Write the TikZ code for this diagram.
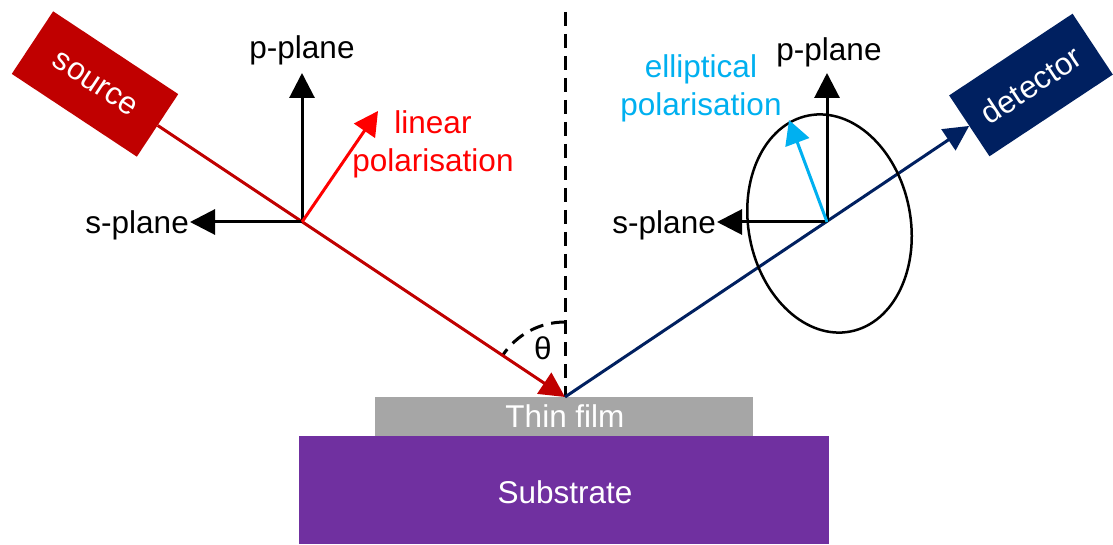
\documentclass[tikz,border=0pt]{standalone}
\usepackage{fontspec}
\setmainfont{Liberation Sans}
\usetikzlibrary{arrows.meta}
\definecolor{srcred}{HTML}{C00000}
\definecolor{detblue}{HTML}{002060}
\definecolor{filmgray}{HTML}{A6A6A6}
\definecolor{subpurple}{HTML}{7030A0}
\definecolor{polred}{HTML}{FF0000}
\definecolor{polcyan}{HTML}{00B0F0}
\tikzset{
  txt/.style={font=\fontsize{31.5}{38}\selectfont, inner sep=0pt},
  boxnode/.style={txt, text=white, minimum width=150pt, minimum height=75pt},
  axis/.style={line width=3pt, black, -{Triangle[length=25pt,width=25pt]}},
  polarrow/.style={line width=3pt, -{Triangle[length=24pt,width=25pt]}},
  beam/.style={line width=3pt},
  dashline/.style={line width=3pt, dash pattern=on 14pt off 8pt},
}
\begin{document}
\begin{tikzpicture}[x=1pt,y=1pt]
\useasboundingbox[fill=white] (0,0) rectangle (1113,544);
% layers
\node[fill=subpurple, minimum width=530pt, minimum height=108pt, inner sep=0pt, anchor=south west] (sub) at (299,0) {};
\node[fill=filmgray, minimum width=378pt, minimum height=39pt, inner sep=0pt, anchor=south west] (film) at (375,108) {};
\node[txt, text=white] (filmtxt) at (565,128) {Thin film};
\node[txt, text=white] (subtxt) at (565,52) {Substrate};
% incidence point and normal
\coordinate (I) at (565,147);
\coordinate (N) at (565,532);
\draw[dashline] (N) -- (I);
\draw[dashline] (I) ++(90:75) arc[start angle=90, end angle=146.5, radius=75];
\node[txt] (theta) at (543,196) {θ};
% source and detector
\node[boxnode, fill=srcred, rotate=-33.5] (src) at (95,460) {source};
\node[boxnode, fill=detblue, rotate=33.5, minimum width=148pt, minimum height=73pt] (det) at (1031,459) {detector};
\draw[beam, srcred, -{Triangle[length=25pt,width=25pt]}] (src.east) -- (I);
\draw[beam, detblue, -{Triangle[length=25pt,width=25pt]}] (I) -- (det.west);
% left axes
\coordinate (L) at (302,322);
\coordinate (Lp) at (302,471);
\coordinate (Ls) at (190,322);
\coordinate (Lr) at (378,433);
\draw[axis] (L) -- (Lp);
\draw[axis] (L) -- (Ls);
\draw[polarrow, polred] (L) -- (Lr);
\node[txt] (Lplab) at (302,494) {p-plane};
\node[txt, anchor=east] (Lslab) at ([xshift=-1pt,yshift=-3pt]Ls) {s-plane};
\node[txt, text=polred, align=center] (linlab) at (433,400) {linear\\polarisation};
% right axes
\coordinate (R) at (827,322);
\coordinate (Rp) at (827,471);
\coordinate (Rs) at (717,322);
\coordinate (Rc) at (789,424);
\draw[line width=2.5pt] (829.5,320.5) ellipse[x radius=81, y radius=110, rotate=11];
\draw[axis] (R) -- (Rp);
\draw[axis] (R) -- (Rs);
\draw[polarrow, polcyan] (R) -- (Rc);
\node[txt] (Rplab) at (829,492) {p-plane};
\node[txt, anchor=east] (Rslab) at ([xshift=-1pt,yshift=-3pt]Rs) {s-plane};
\node[txt, text=polcyan, align=center] (elllab) at (701,455.5) {elliptical\\polarisation};
\end{tikzpicture}
\end{document}
